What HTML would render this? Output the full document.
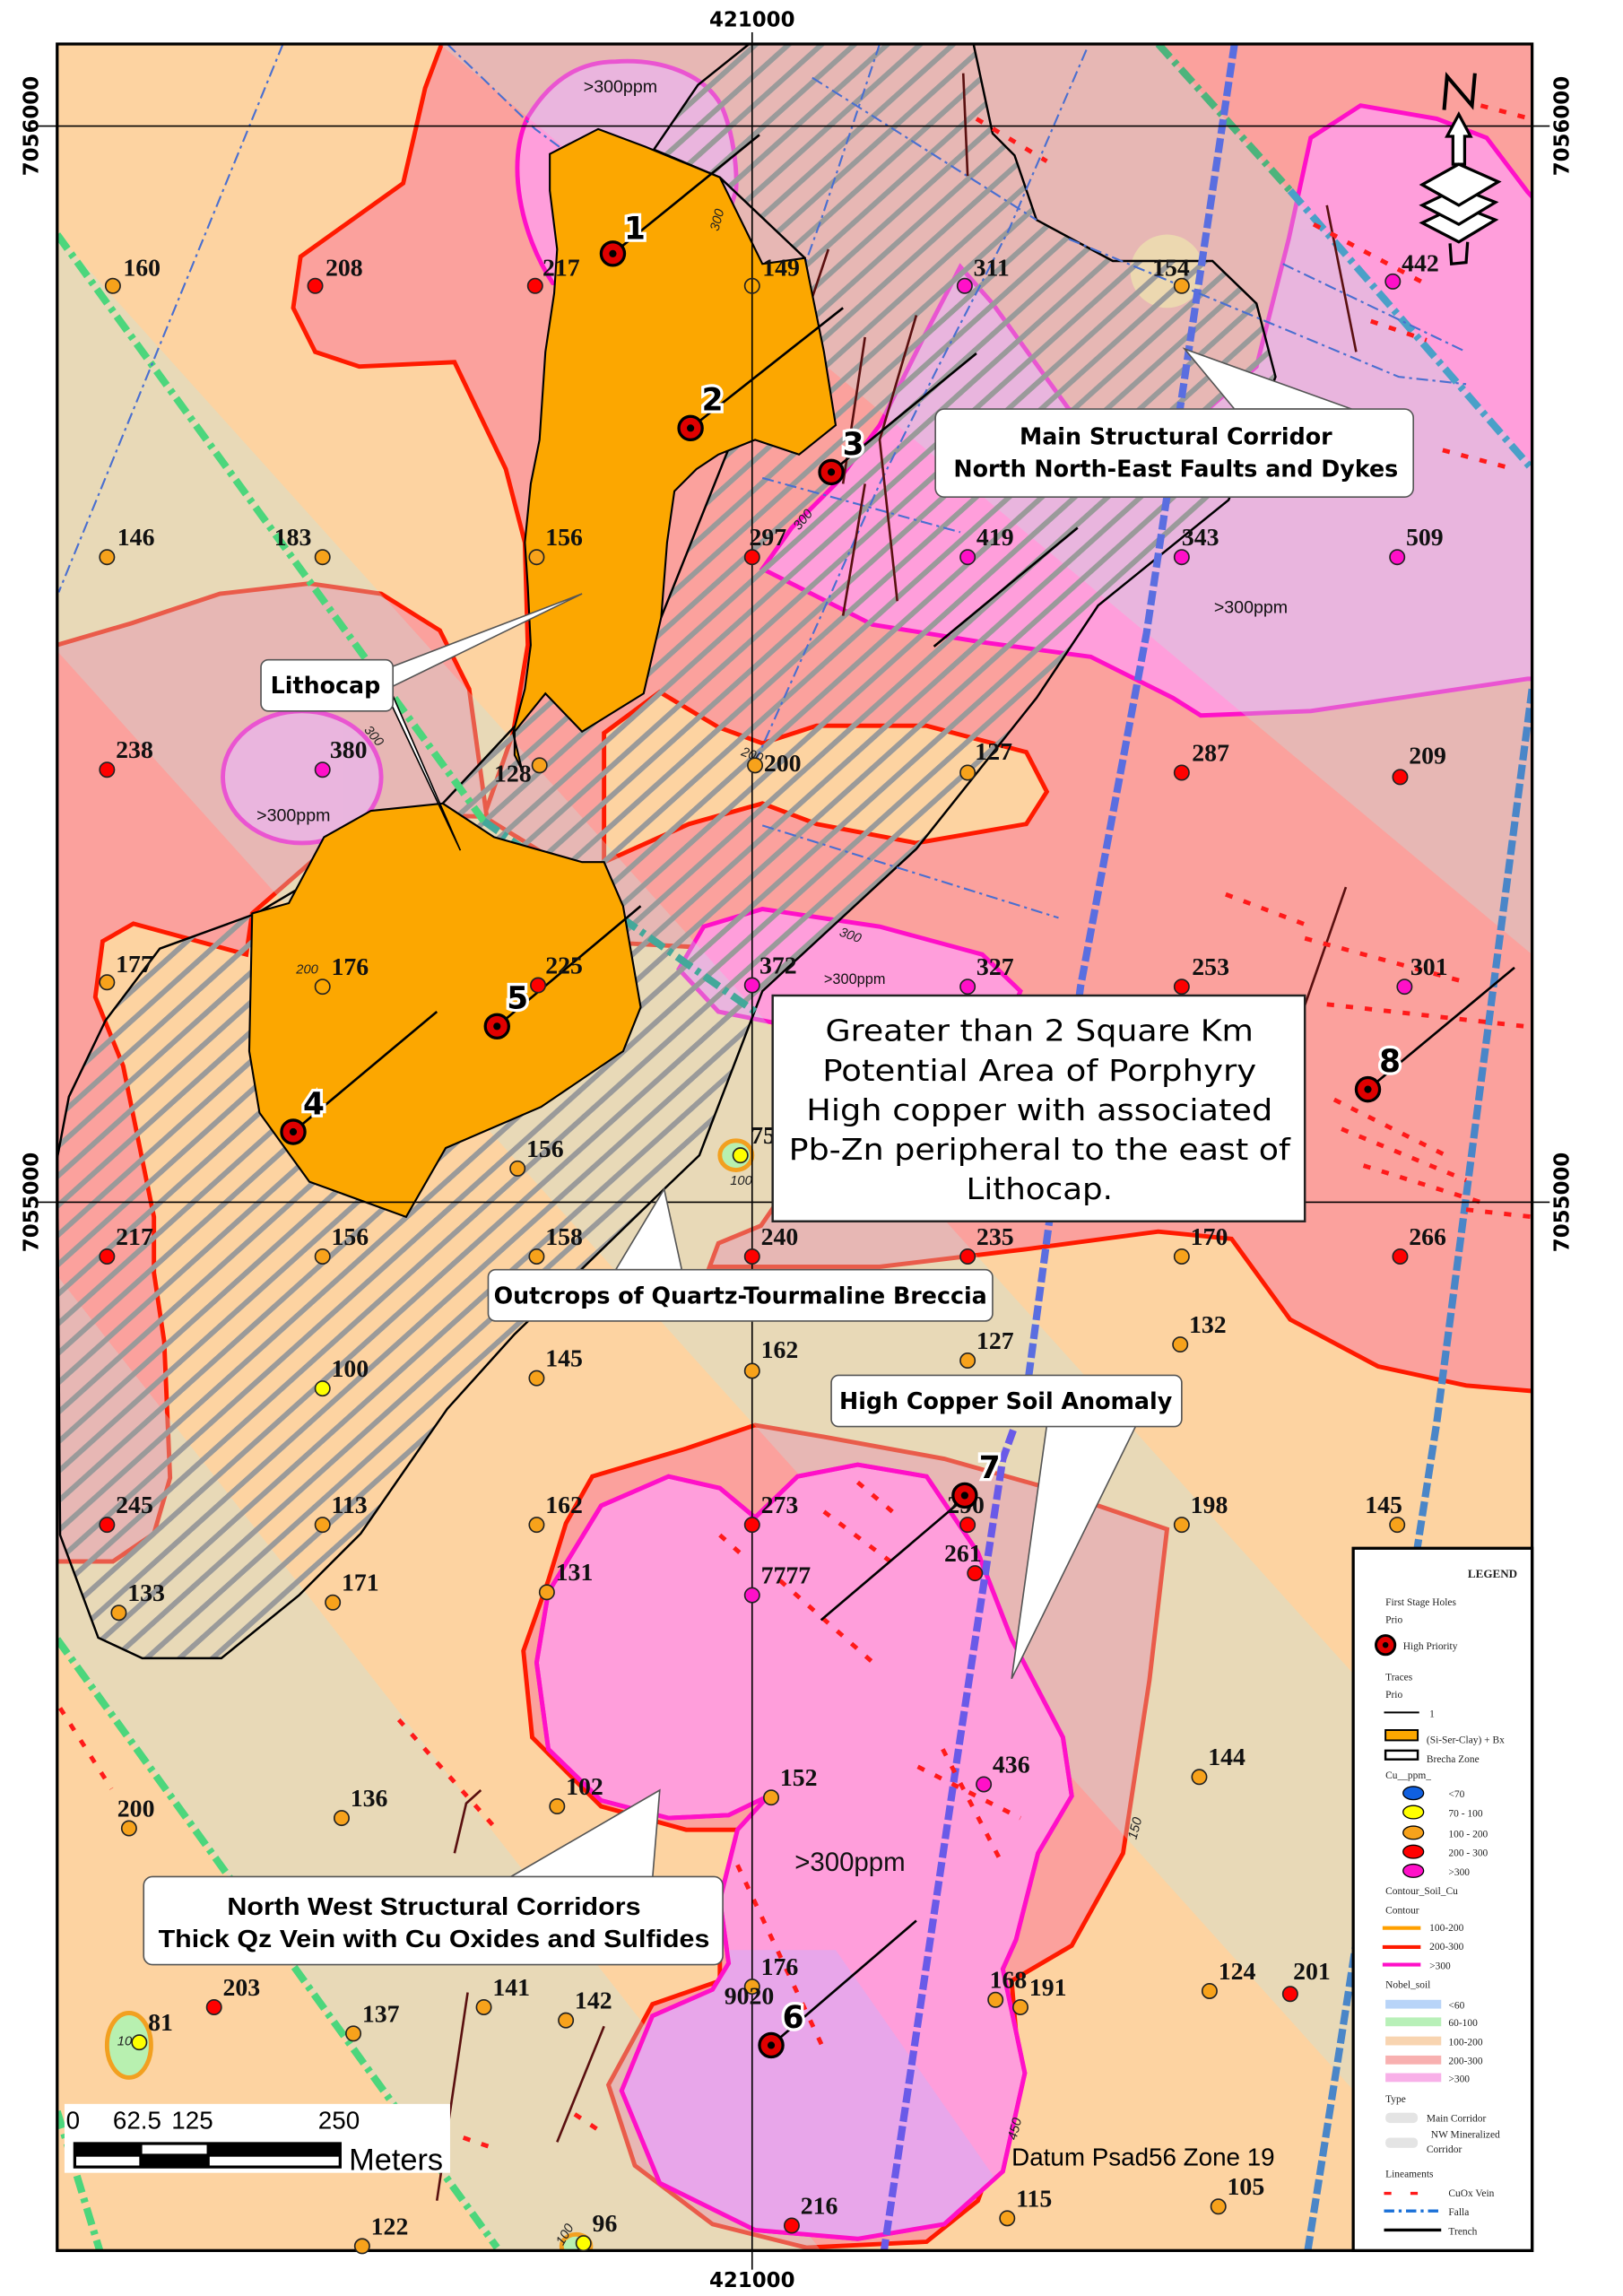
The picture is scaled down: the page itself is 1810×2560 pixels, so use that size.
<!DOCTYPE html>
<html><head><meta charset="utf-8"><style>html,body{margin:0;padding:0;background:#fff}svg{display:block}</style></head>
<body>
<svg width="1810" height="2560" viewBox="0 0 1107 1566" preserveAspectRatio="none" xmlns="http://www.w3.org/2000/svg">
<defs>
<clipPath id="f"><rect x="39" y="30" width="1006" height="1505"/></clipPath>
<pattern id="h" width="15" height="15" patternUnits="userSpaceOnUse" patternTransform="rotate(-42)"><line x1="0" y1="7.5" x2="15" y2="7.5" stroke="#9a9a9a" stroke-width="3.6"/></pattern>
<clipPath id="mg"><path d="M515,1035 L544,1007 585,999 632,1007 667,1059 690,1118 725,1185 731,1225 708,1264 693,1323 684,1343 699,1414 684,1481 644,1517 585,1527 515,1521 450,1489 424,1426 445,1375 486,1357 497,1339 491,1296 503,1248 524,1225 497,1238 456,1240 410,1228 374,1193 366,1134 374,1086 410,1027 456,1007 491,1015Z"/></clipPath>
</defs>
<rect width="1107" height="1566" fill="#fff"/>
<g clip-path="url(#f)">
<rect x="39" y="30" width="1006" height="1505" fill="#fdd3a1"/>
<path d="M305,20 L1060,20 1060,950 1000,945 940,932 880,900 840,845 790,840 700,852 600,864 484,864 490,848 519,836 530,820 530,680 548,650 420,643 400,600 330,557 350,500 360,440 358,370 345,320 310,247 245,250 215,240 200,210 205,175 240,150 275,125 290,60Z" fill="#fba19d" stroke="#ff1a00" stroke-width="3"/>
<path d="M412,500 L450,472 490,496 520,507 557,495 632,495 700,513 714,540 700,562 625,575 557,562 520,548 470,562 412,588Z" fill="#fdd3a1" stroke="#ff1a00" stroke-width="3"/>
<path d="M25,444 L90,425 150,405 211,398 260,405 300,430 320,470 332,557 250,555 172,623 168,651 91,630 70,642 65,680 84,727 105,830 105,868 112,915 116,1008 105,1046 77,1065 25,1065Z" fill="#fba19d" stroke="#ff1a00" stroke-width="3"/>
<path d="M377,193 C355,160 345,110 360,80 C375,55 395,42 420,42 C450,40 480,50 492,72 C500,90 503,115 502,130 L480,200 Z" fill="#ff9edb" stroke="#ff10c8" stroke-width="3"/>
<path d="M655,182 L677,207 729,279 800,300 857,250 879,163 894,94 928,72 980,81 1014,94 1042,131 1060,150 1060,463 1042,463 894,485 819,488 800,476 744,448 670,438 595,426 520,388 540,360 570,330 600,290 630,230Z" fill="#ff9edb" stroke="#ff10c8" stroke-width="3"/>
<ellipse cx="206" cy="530" rx="54" ry="45" fill="#ff9edb" stroke="#ff10c8" stroke-width="3"/>
<path d="M463,661 L480,632 520,620 600,632 670,651 696,676 690,690 530,698 490,690Z" fill="#ff9edb" stroke="#ff10c8" stroke-width="3"/>
<path d="M386,1039 L404,1007 468,988 515,972 562,980 644,995 708,1013 796,1043 784,1146 766,1264 731,1327 690,1351 696,1422 667,1501 632,1529 550,1533 486,1517 433,1477 415,1422 445,1367 491,1351 491,1304 503,1248 468,1248 410,1232 363,1185 357,1126 374,1078Z" fill="#fba19d" stroke="#ff1a00" stroke-width="3"/>
<g fill="rgb(190,230,230)" opacity="0.32">
<polygon points="39,160 1045,1277 1045,1561 39,444"/>
<polygon points="300,30 790,30 1045,316 1045,651"/>
<polygon points="39,870 560,1535 339,1535 39,1118"/>
</g>
<path d="M515,1035 L544,1007 585,999 632,1007 667,1059 690,1118 725,1185 731,1225 708,1264 693,1323 684,1343 699,1414 684,1481 644,1517 585,1527 515,1521 450,1489 424,1426 445,1375 486,1357 497,1339 491,1296 503,1248 524,1225 497,1238 456,1240 410,1228 374,1193 366,1134 374,1086 410,1027 456,1007 491,1015Z" fill="#ff9edb" stroke="#ff10c8" stroke-width="3"/>
<polygon points="400,1330 570,1330 720,1545 400,1545" fill="#e8a6ea" clip-path="url(#mg)"/>
<path d="M515,1035 L544,1007 585,999 632,1007 667,1059 690,1118 725,1185 731,1225 708,1264 693,1323 684,1343 699,1414 684,1481 644,1517 585,1527 515,1521 450,1489 424,1426 445,1375 486,1357 497,1339 491,1296 503,1248 524,1225 497,1238 456,1240 410,1228 374,1193 366,1134 374,1086 410,1027 456,1007 491,1015Z" fill="none" stroke="#ff10c8" stroke-width="3"/>
<circle cx="796" cy="185" r="25" fill="#ecd8b0"/>
<path d="M511,30 L664,30 677,91 692,106 707,150 759,178 827,178 857,207 870,257 838,341 749,413 707,476 625,579 520,676 477,788 453,811 351,910 305,961 246,1046 204,1088 151,1131 97,1131 67,1117 41,1047 39,790 47,748 72,696 109,647 175,623 302,548 372,473 451,421 549,176 491,121 446,102 476,58Z" fill="url(#h)" stroke="#000" stroke-width="1.5"/>
<g fill="none" stroke-width="5" stroke-dasharray="12 4 3 4">
<path d="M39,160 L330,560" stroke="#4cd67c"/>
<path d="M330,560 L515,690" stroke="#43a89a"/>
<path d="M790,30 L880,130" stroke="#4cb47c"/>
<path d="M880,130 L1045,320" stroke="#4aa0c8"/>
<path d="M39,1118 L339,1533" stroke="#4cd67c"/>
<path d="M39,1440 L68,1535" stroke="#4cd67c"/>
</g>
<g fill="none" stroke-width="5" stroke-dasharray="10 3">
<path d="M842,30 L782,432 737,673 700,951" stroke="#5a6ee0"/>
<path d="M700,951 L684,995 655,1185 603,1535" stroke="#6a5ae8"/>
<path d="M1045,470 L980,970 913,1402 892,1535" stroke="#4a86c8"/>
</g>
<g fill="none" stroke="#4a6fd0" stroke-width="1.3" stroke-dasharray="8 3 2 3">
<path d="M193,30 L40,404"/>
<path d="M305,30 L365,88 395,110"/>
<path d="M741,34 L688,157 640,250 600,330 560,420 515,520"/>
<path d="M554,53 L707,150"/>
<path d="M729,163 L954,257 1000,262"/>
<path d="M520,326 L655,363"/>
<path d="M520,563 L722,626"/>
<path d="M520,200 L470,300 420,360"/>
<path d="M875,180 L1000,240"/>
<path d="M600,30 L560,150 520,260"/>
</g>
<g fill="none" stroke="#5a1010" stroke-width="1.6">
<path d="M657,50 L660,120"/>
<path d="M565,170 L545,230 535,290"/>
<path d="M590,230 L575,330"/>
<path d="M625,215 L600,300 612,410"/>
<path d="M590,330 L575,420"/>
<path d="M905,140 L925,240"/>
<path d="M918,605 L885,700"/>
<path d="M319,1359 L298,1501"/>
<path d="M412,1382 L380,1461"/>
<path d="M328,1221 L318,1230 310,1264"/>
</g>
<g fill="none" stroke="#ff1a1a" stroke-width="3" stroke-dasharray="5 8">
<path d="M666,81 L714,110"/><path d="M1010,72 L1040,80"/>
<path d="M896,153 L973,194"/><path d="M935,219 L973,232"/><path d="M984,307 L1029,319"/>
<path d="M836,610 L894,632"/><path d="M890,640 L1000,670"/><path d="M905,685 L1040,700"/>
<path d="M910,750 L990,790"/><path d="M915,770 L1000,805"/><path d="M930,795 L1010,820"/><path d="M1000,825 L1045,830"/>
<path d="M562,1031 L614,1070"/><path d="M585,1011 L611,1033"/><path d="M532,1078 L600,1138"/><path d="M491,1047 L509,1063"/>
<path d="M626,1205 L696,1240"/><path d="M643,1193 L684,1272"/><path d="M503,1272 L562,1398"/>
<path d="M41,1165 L76,1220"/><path d="M272,1173 L339,1248"/><path d="M316,1458 L339,1466"/><path d="M392,1442 L410,1454"/>
</g>
<path d="M375,105 L408,88 440,100 491,121 520,180 549,176 562,240 570,290 545,310 515,300 490,310 475,320 460,335 455,370 451,421 439,473 397,499 372,473 351,499 351,515 356,525 350,500 358,470 362,440 360,400 358,370 362,330 368,300 370,270 372,240 378,200 380,170 375,130Z" fill="#fca700" stroke="#000" stroke-width="1.3"/>
<path d="M197,616 L221,571 253,553 302,548 337,571 397,588 412,588 425,618 437,687 425,717 369,755 304,783 277,830 211,806 177,759 170,717 172,623Z" fill="#fca700" stroke="#000" stroke-width="1.3"/>
<ellipse cx="502" cy="788" rx="11" ry="10" fill="#b8f0b0" stroke="#f2a020" stroke-width="3"/>
<ellipse cx="88" cy="1395" rx="15" ry="22" fill="#b8f0b0" stroke="#f2a020" stroke-width="3"/>
<ellipse cx="393" cy="1532" rx="10" ry="8" fill="#b8f0b0" stroke="#f2a020" stroke-width="3"/>
<g stroke="#000" stroke-width="1.6" fill="none">
<path d="M418,173 L518,92"/><path d="M471,292 L575,210"/><path d="M567,322 L666,241"/>
<path d="M200,772 L298,690"/><path d="M339,700 L437,618"/><path d="M526,1395 L625,1310"/>
<path d="M560,1105 L660,1020"/><path d="M933,743 L1033,660"/><path d="M637,441 L735,360"/>
</g>
<g font-family="Liberation Sans, sans-serif" font-size="9" font-style="italic" fill="#222">
<text x="490" y="158" transform="rotate(-75 490 158)">300</text>
<text x="545" y="362" transform="rotate(-50 545 362)">300</text>
<text x="248" y="498" transform="rotate(50 248 498)">300</text>
<text x="505" y="515" transform="rotate(20 505 515)">200</text>
<text x="572" y="638" transform="rotate(20 572 638)">300</text>
<text x="202" y="664">200</text>
<text x="498" y="808">100</text>
<text x="80" y="1395">100</text>
<text x="775" y="1255" transform="rotate(-75 775 1255)">150</text>
<text x="693" y="1460" transform="rotate(-75 693 1460)">450</text>
<text x="384" y="1532" transform="rotate(-60 384 1532)">100</text>
</g>
<g font-family="Liberation Sans, sans-serif" fill="#111">
<text x="398" y="63" font-size="12">&gt;300ppm</text>
<text x="175" y="560" font-size="12">&gt;300ppm</text>
<text x="828" y="418" font-size="12">&gt;300ppm</text>
<text x="562" y="671" font-size="10">&gt;300ppm</text>
<text x="542" y="1276" font-size="18">&gt;300ppm</text>
</g>
</g>
<g stroke="#000" stroke-width="1">
<line x1="513" y1="22" x2="513" y2="1548"/>
<line x1="25" y1="86" x2="1057" y2="86"/>
<line x1="25" y1="820" x2="1057" y2="820"/>
</g>
<rect x="39" y="30" width="1006" height="1505" fill="none" stroke="#000" stroke-width="2"/>
<g stroke="#222" stroke-width="1">
<g fill="#f7a21b">
<circle cx="77" cy="195" r="5"/><circle cx="806" cy="195" r="5"/><circle cx="73" cy="380" r="5"/><circle cx="220" cy="380" r="5"/><circle cx="366" cy="380" r="5"/>
<circle cx="368" cy="522" r="5"/><circle cx="515" cy="522" r="5"/><circle cx="660" cy="527" r="5"/><circle cx="73" cy="670" r="5"/><circle cx="353" cy="797" r="5"/>
<circle cx="220" cy="857" r="5"/><circle cx="366" cy="857" r="5"/><circle cx="806" cy="857" r="5"/><circle cx="366" cy="940" r="5"/><circle cx="513" cy="935" r="5"/>
<circle cx="660" cy="928" r="5"/><circle cx="805" cy="917" r="5"/><circle cx="220" cy="1040" r="5"/><circle cx="366" cy="1040" r="5"/><circle cx="806" cy="1040" r="5"/>
<circle cx="953" cy="1040" r="5"/><circle cx="81" cy="1100" r="5"/><circle cx="227" cy="1093" r="5"/><circle cx="373" cy="1086" r="5"/><circle cx="818" cy="1212" r="5"/>
<circle cx="88" cy="1247" r="5"/><circle cx="233" cy="1240" r="5"/><circle cx="380" cy="1232" r="5"/><circle cx="526" cy="1226" r="5"/><circle cx="513" cy="1355" r="5"/>
<circle cx="679" cy="1364" r="5"/><circle cx="696" cy="1369" r="5"/><circle cx="825" cy="1358" r="5"/><circle cx="241" cy="1387" r="5"/><circle cx="330" cy="1369" r="5"/>
<circle cx="386" cy="1378" r="5"/><circle cx="831" cy="1505" r="5"/><circle cx="687" cy="1513" r="5"/><circle cx="247" cy="1532" r="5"/>
</g>
<g fill="none"><circle cx="513" cy="195" r="5"/><circle cx="220" cy="673" r="5"/></g>
<g fill="#ff0000">
<circle cx="215" cy="195" r="5"/><circle cx="365" cy="195" r="5"/><circle cx="513" cy="380" r="5"/><circle cx="73" cy="525" r="5"/><circle cx="806" cy="527" r="5"/>
<circle cx="955" cy="530" r="5"/><circle cx="367" cy="672" r="5"/><circle cx="806" cy="673" r="5"/><circle cx="73" cy="857" r="5"/><circle cx="513" cy="857" r="5"/>
<circle cx="660" cy="857" r="5"/><circle cx="955" cy="857" r="5"/><circle cx="73" cy="1040" r="5"/><circle cx="513" cy="1040" r="5"/><circle cx="660" cy="1040" r="5"/>
<circle cx="665" cy="1073" r="5"/><circle cx="880" cy="1360" r="5"/><circle cx="146" cy="1369" r="5"/><circle cx="540" cy="1518" r="5"/>
</g>
<g fill="#ff10c8">
<circle cx="658" cy="195" r="5"/><circle cx="950" cy="192" r="5"/><circle cx="660" cy="380" r="5"/><circle cx="806" cy="380" r="5"/><circle cx="953" cy="380" r="5"/>
<circle cx="220" cy="525" r="5"/><circle cx="513" cy="672" r="5"/><circle cx="660" cy="673" r="5"/><circle cx="958" cy="673" r="5"/><circle cx="513" cy="1088" r="5"/><circle cx="671" cy="1217" r="5"/>
</g>
<g fill="#ffff00"><circle cx="505" cy="788" r="5"/><circle cx="220" cy="947" r="5"/><circle cx="95" cy="1393" r="5"/><circle cx="398" cy="1530" r="5"/></g>
</g>
<g font-family="Liberation Serif, serif" font-weight="bold" font-size="17" fill="#111">
<text x="84" y="188">160</text><text x="222" y="188">208</text><text x="370" y="188">217</text><text x="520" y="188">149</text><text x="664" y="188">311</text><text x="786" y="188">154</text><text x="956" y="185">442</text>
<text x="80" y="372">146</text><text x="187" y="372">183</text><text x="372" y="372">156</text><text x="511" y="372">297</text><text x="666" y="372">419</text><text x="806" y="372">343</text><text x="959" y="372">509</text>
<text x="79" y="517">238</text><text x="225" y="517">380</text><text x="337" y="533">128</text><text x="521" y="526">200</text><text x="665" y="518">127</text><text x="813" y="519">287</text><text x="961" y="521">209</text>
<text x="79" y="663">177</text><text x="226" y="665">176</text><text x="372" y="664">225</text><text x="518" y="664">372</text><text x="666" y="665">327</text><text x="813" y="665">253</text><text x="962" y="665">301</text>
<text x="359" y="789">156</text><text x="512" y="780">75</text>
<text x="79" y="849">217</text><text x="226" y="849">156</text><text x="372" y="849">158</text><text x="519" y="849">240</text><text x="666" y="849">235</text><text x="812" y="849">170</text><text x="961" y="849">266</text>
<text x="226" y="939">100</text><text x="372" y="932">145</text><text x="519" y="926">162</text><text x="666" y="920">127</text><text x="811" y="909">132</text>
<text x="79" y="1032">245</text><text x="226" y="1032">113</text><text x="372" y="1032">162</text><text x="519" y="1032">273</text><text x="646" y="1032">290</text><text x="812" y="1032">198</text><text x="931" y="1032">145</text>
<text x="87" y="1092">133</text><text x="233" y="1085">171</text><text x="379" y="1078">131</text><text x="519" y="1080">7777</text><text x="644" y="1065">261</text>
<text x="677" y="1209">436</text><text x="824" y="1204">144</text><text x="80" y="1239">200</text><text x="239" y="1232">136</text><text x="386" y="1224">102</text><text x="532" y="1218">152</text>
<text x="519" y="1347">176</text><text x="494" y="1367">9020</text><text x="675" y="1356">168</text><text x="702" y="1361">191</text><text x="831" y="1350">124</text><text x="882" y="1350">201</text>
<text x="152" y="1361">203</text><text x="247" y="1379">137</text><text x="336" y="1361">141</text><text x="392" y="1370">142</text><text x="101" y="1385">81</text>
<text x="837" y="1497">105</text><text x="693" y="1505">115</text><text x="546" y="1510">216</text><text x="253" y="1524">122</text><text x="404" y="1522">96</text>
</g>
<g>
<g stroke="#000" stroke-width="2" fill="#e00000">
<circle cx="418" cy="173" r="8"/><circle cx="471" cy="292" r="8"/><circle cx="567" cy="322" r="8"/><circle cx="200" cy="772" r="8"/>
<circle cx="339" cy="700" r="8"/><circle cx="526" cy="1395" r="8"/><circle cx="658" cy="1020" r="8"/><circle cx="933" cy="743" r="8"/>
</g>
<g fill="#000"><circle cx="418" cy="173" r="2.5"/><circle cx="471" cy="292" r="2.5"/><circle cx="567" cy="322" r="2.5"/><circle cx="200" cy="772" r="2.5"/><circle cx="339" cy="700" r="2.5"/><circle cx="526" cy="1395" r="2.5"/><circle cx="658" cy="1020" r="2.5"/><circle cx="933" cy="743" r="2.5"/></g>
<g font-family="DejaVu Sans, sans-serif" font-weight="bold" font-size="21" fill="#000" stroke="#fff" stroke-width="4" paint-order="stroke" text-anchor="middle">
<text x="433" y="163">1</text><text x="486" y="280">2</text><text x="582" y="310">3</text><text x="214" y="760">4</text>
<text x="353" y="688">5</text><text x="541" y="1383">6</text><text x="675" y="1008">7</text><text x="948" y="731">8</text>
</g>
</g>
<g fill="#fff" stroke="#555" stroke-width="1">
<polygon points="808,238 842,279 922,279"/>
<rect x="638" y="279" width="326" height="60" rx="6"/>
<polygon points="397,405 264,456 264,470"/>
<polygon points="314,580 262,470 266,470" stroke="#000"/>
<rect x="178" y="450" width="90" height="35" rx="5"/>
<polygon points="453,811 420,866 465,866"/>
<rect x="333" y="866" width="344" height="35" rx="5"/>
<polygon points="690,1145 714,972 775,972"/>
<rect x="567" y="938" width="239" height="35" rx="5"/>
<polygon points="450,1221 345,1282 445,1282"/>
<rect x="98" y="1280" width="395" height="60" rx="6"/>
<rect x="527" y="679" width="363" height="154" stroke="#222" stroke-width="1.5"/>
</g>
<g font-family="DejaVu Sans, sans-serif" font-weight="bold" font-size="15.5" fill="#000" text-anchor="middle">
<text x="802" y="303">Main Structural Corridor</text>
<text x="802" y="325">North North-East Faults and Dykes</text>
<text x="222" y="473">Lithocap</text>
<text x="505" y="889">Outcrops of Quartz-Tourmaline Breccia</text>
<text x="686" y="961">High Copper Soil Anomaly</text>
</g>
<g font-family="Liberation Sans Narrow, Liberation Sans, sans-serif" font-weight="bold" font-size="17" fill="#000" text-anchor="middle">
<text x="296" y="1306" textLength="282" lengthAdjust="spacingAndGlyphs">North West Structural Corridors</text>
<text x="296" y="1328" textLength="376" lengthAdjust="spacingAndGlyphs">Thick Qz Vein with Cu Oxides and Sulfides</text>
</g>
<g font-family="DejaVu Sans, sans-serif" font-size="20" fill="#000" text-anchor="middle">
<text x="709" y="710" textLength="292" lengthAdjust="spacingAndGlyphs">Greater than 2 Square Km</text>
<text x="709" y="737" textLength="296" lengthAdjust="spacingAndGlyphs">Potential Area of Porphyry</text>
<text x="709" y="764" textLength="318" lengthAdjust="spacingAndGlyphs">High copper with associated</text>
<text x="709" y="791" textLength="342" lengthAdjust="spacingAndGlyphs">Pb-Zn peripheral to the east of</text>
<text x="709" y="818" textLength="100" lengthAdjust="spacingAndGlyphs">Lithocap.</text>
</g>
<rect x="44" y="1435" width="263" height="47" fill="#fff"/>
<g font-family="Liberation Sans Narrow, Liberation Sans, sans-serif" font-size="17" fill="#000">
<text x="45" y="1452">0</text><text x="77" y="1452">62.5</text><text x="117" y="1452">125</text><text x="217" y="1452">250</text>
<text x="238" y="1480" font-size="21">Meters</text>
</g>
<rect x="50" y="1461" width="183" height="18" fill="#000"/>
<rect x="97" y="1463" width="44" height="6" fill="#fff"/>
<rect x="52" y="1471" width="43" height="6" fill="#fff"/>
<rect x="143" y="1471" width="88" height="6" fill="#fff"/>
<text x="690" y="1477" font-family="Liberation Sans Narrow, Liberation Sans, sans-serif" font-size="17" fill="#000">Datum Psad56 Zone 19</text>
<g fill="none" stroke="#000" stroke-width="2.5">
<path d="M985,75 L987,52 1004,72 1006,50"/>
<path d="M995,78 L1003,93 999,93 999,112 991,112 991,93 987,93Z" fill="#fff" stroke-width="2"/>
<path d="M970,152 L995,140 1020,150 995,165Z" fill="#fff" stroke-width="2"/>
<path d="M970,140 L995,128 1020,138 995,153Z" fill="#fff" stroke-width="2"/>
<path d="M970,126 L995,112 1022,124 995,140Z" fill="#fff" stroke-width="2"/>
<path d="M989,166 L990,180 1000,179 1001,165" stroke-width="2"/>
</g>
<g font-family="DejaVu Sans, Liberation Sans, sans-serif" font-weight="bold" font-size="14" fill="#000" text-anchor="middle">
<text x="513" y="18">421000</text>
<text x="513" y="1560">421000</text>
<text x="26" y="86" transform="rotate(-90 26 86)">7056000</text>
<text x="26" y="820" transform="rotate(-90 26 820)">7055000</text>
<text x="1070" y="86" transform="rotate(-90 1070 86)">7056000</text>
<text x="1070" y="820" transform="rotate(-90 1070 820)">7055000</text>
</g>
<rect x="923" y="1056" width="122" height="479" fill="#fff" stroke="#000" stroke-width="2"/>
<g font-family="Liberation Serif, serif" font-size="7" fill="#222">
<text x="1018" y="1076" text-anchor="middle" font-weight="bold" font-size="8">LEGEND</text>
<text x="945" y="1095">First Stage Holes</text>
<text x="945" y="1107">Prio</text>
<text x="957" y="1125">High Priority</text>
<text x="945" y="1146">Traces</text>
<text x="945" y="1158">Prio</text>
<text x="975" y="1171">1</text>
<text x="973" y="1189">(Si-Ser-Clay) + Bx</text>
<text x="973" y="1202">Brecha Zone</text>
<text x="945" y="1213">Cu__ppm_</text>
<text x="988" y="1226">&lt;70</text><text x="988" y="1239">70 - 100</text><text x="988" y="1253">100 - 200</text><text x="988" y="1266">200 - 300</text><text x="988" y="1279">&gt;300</text>
<text x="945" y="1292">Contour_Soil_Cu</text>
<text x="945" y="1305">Contour</text>
<text x="975" y="1317">100-200</text><text x="975" y="1330">200-300</text><text x="975" y="1343">&gt;300</text>
<text x="945" y="1356">Nobel_soil</text>
<text x="988" y="1370">&lt;60</text><text x="988" y="1382">60-100</text><text x="988" y="1395">100-200</text><text x="988" y="1408">200-300</text><text x="988" y="1420">&gt;300</text>
<text x="945" y="1434">Type</text>
<text x="973" y="1447">Main Corridor</text>
<text x="976" y="1458">NW Mineralized</text>
<text x="973" y="1468">Corridor</text>
<text x="945" y="1485">Lineaments</text>
<text x="988" y="1498">CuOx Vein</text>
<text x="988" y="1511">Falla</text>
<text x="988" y="1524">Trench</text>
</g>
<circle cx="945" cy="1122" r="6.5" fill="#e00000" stroke="#000" stroke-width="1.8"/><circle cx="945" cy="1122" r="2" fill="#000"/>
<line x1="944" y1="1168" x2="968" y2="1168" stroke="#000" stroke-width="1.2"/>
<rect x="945" y="1180" width="22" height="7" fill="#fca700" stroke="#000" stroke-width="1.2"/>
<rect x="945" y="1194" width="22" height="6" fill="#fff" stroke="#000" stroke-width="1.5"/>
<g stroke="#000" stroke-width="0.8">
<ellipse cx="964" cy="1223" rx="7" ry="4.5" fill="#1060e0"/><ellipse cx="964" cy="1236" rx="7" ry="4.5" fill="#ffff00"/><ellipse cx="964" cy="1250" rx="7" ry="4.5" fill="#f7a21b"/><ellipse cx="964" cy="1263" rx="7" ry="4.5" fill="#ff0000"/><ellipse cx="964" cy="1276" rx="7" ry="4.5" fill="#ff10c8"/>
</g>
<g stroke-width="2.5"><line x1="943" y1="1315" x2="969" y2="1315" stroke="#ffa000"/><line x1="943" y1="1328" x2="969" y2="1328" stroke="#ff1a00"/><line x1="943" y1="1340" x2="969" y2="1340" stroke="#ff10c8"/></g>
<rect x="945" y="1364" width="38" height="6" fill="#b8d4f8"/><rect x="945" y="1376" width="38" height="6" fill="#b8f0b8"/><rect x="945" y="1389" width="38" height="6" fill="#f8d4b0"/><rect x="945" y="1402" width="38" height="6" fill="#f8b0b0"/><rect x="945" y="1414" width="38" height="6" fill="#f8b0e8"/>
<rect x="945" y="1441" width="22" height="7" rx="3" fill="#e4e4e4"/><rect x="945" y="1458" width="22" height="7" rx="3" fill="#e4e4e4"/>
<g stroke-width="2"><line x1="944" y1="1496" x2="979" y2="1496" stroke="#ff1a1a" stroke-dasharray="5 13"/><line x1="944" y1="1508" x2="981" y2="1508" stroke="#1a70d8" stroke-dasharray="7 3 2 3"/><line x1="944" y1="1521" x2="983" y2="1521" stroke="#000"/></g>
</svg>
</body></html>
